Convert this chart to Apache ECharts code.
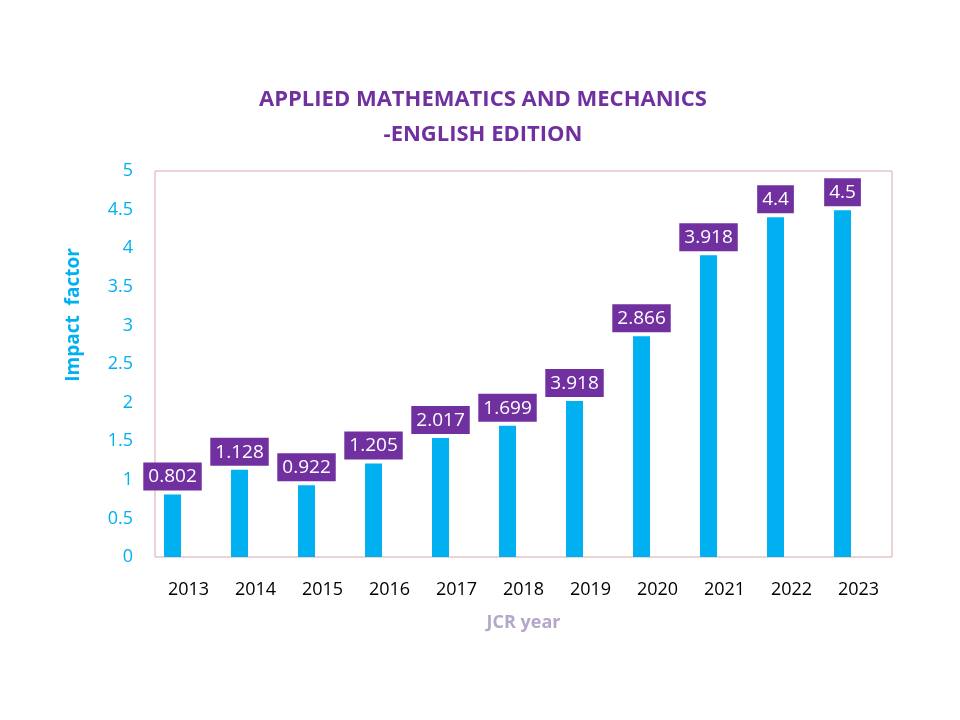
<!DOCTYPE html>
<html><head><meta charset="utf-8">
<script src="https://cdn.jsdelivr.net/npm/echarts@6/dist/echarts.min.js"></script>
<style>html,body{margin:0;padding:0;background:#fff}#c{width:960px;height:720px}</style>
</head><body><div id="c"></div>
<script>
var years = ['2013','2014','2015','2016','2017','2018','2019','2020','2021','2022','2023'];
var barValues = [0.81, 1.13, 0.93, 1.21, 1.54, 1.70, 2.02, 2.86, 3.91, 4.40, 4.49];
var labelTexts = ['0.802','1.128','0.922','1.205','2.017','1.699','3.918','2.866','3.918','4.4','4.5'];
var yTicks = [0, 0.5, 1, 1.5, 2, 2.5, 3, 3.5, 4, 4.5, 5];
var emptySeries = years.map(function(){ return '-'; });

var chart = echarts.init(document.getElementById('c'));
chart.setOption({
  backgroundColor: '#fff',
  animation: false,
  title: {
    text: 'APPLIED MATHEMATICS AND MECHANICS\n-ENGLISH EDITION',
    left: 478, top: 77, textAlign: 'center',
    textStyle: {color: '#7030a0', fontSize: 22, fontWeight: 'bold', fontFamily: 'Open Sans', lineHeight: 35}
  },
  graphic: [{
    type: 'text', x: 64, y: 315, rotation: Math.PI / 2,
    style: {text: 'Impact  factor', fill: '#00b0f0', font: 'bold 19px "Open Sans"', align: 'center', verticalAlign: 'top'}
  }],
  grid: {left: 155, right: 68, top: 171, bottom: 163, show: true, borderColor: '#d9a9a9', borderWidth: 1},
  xAxis: {
    type: 'category', data: years,
    axisLine: {show: false}, axisTick: {show: false},
    axisLabel: {color: '#000', fontSize: 18, margin: 24, fontFamily: 'Open Sans'},
    name: 'JCR year', nameLocation: 'middle', nameGap: 57,
    nameTextStyle: {color: '#b4a7c8', fontSize: 18, fontWeight: 'bold', fontFamily: 'Open Sans'}
  },
  yAxis: {
    type: 'value', min: 0, max: 5, interval: 0.5,
    splitLine: {show: false}, axisLine: {show: false}, axisTick: {show: false},
    axisLabel: {color: '#00b0f0', fontSize: 18, margin: 22, fontFamily: 'Open Sans',
      formatter: function(v){ return yTicks.indexOf(v) >= 0 ? String(v) : ''; }}
  },
  series: [{
    type: 'bar', data: barValues, barWidth: 17, barGap: '88%',
    itemStyle: {color: '#00b0f0'},
    label: {
      show: true, position: 'top', distance: 4,
      formatter: function(p){ return labelTexts[p.dataIndex]; },
      backgroundColor: '#7030a0', color: '#fff', fontSize: 19, fontFamily: 'Open Sans',
      padding: [5, 5, 4, 5]
    }
  }, {
    type: 'bar', data: emptySeries, barWidth: 17, itemStyle: {color: 'transparent'}, silent: true
  }]
});
</script></body></html>
